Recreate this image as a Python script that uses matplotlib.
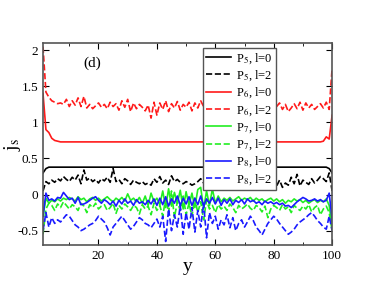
import matplotlib
matplotlib.use("Agg")
import matplotlib.pyplot as plt
from matplotlib.ticker import MultipleLocator, FuncFormatter

plt.rcParams['font.family'] = ['Liberation Serif', 'DejaVu Serif']
plt.rcParams['mathtext.fontset'] = 'stix'
plt.rcParams['axes.unicode_minus'] = False

y = list(range(1, 101))

p5_l0 = [0.30, 0.36] + [0.38] * 96 + [0.36, 0.30]
p6_l0 = [1.40, 0.90, 0.86, 0.78, 0.75, 0.74] + [0.73] * 90 + [0.74, 0.80, 0.77, 1.10]

p5_l2 = [
    0.05, 0.18, 0.15, 0.20, 0.17, 0.22, 0.19, 0.25, 0.21, 0.18,
    0.24, 0.20, 0.27, 0.15, 0.34, 0.20, 0.23, 0.18, 0.21, 0.16,
    0.22, 0.19, 0.24, 0.17, 0.36, 0.18, 0.21, 0.15, 0.22, 0.19,
    0.14, 0.20, 0.17, 0.15, 0.18, 0.14, 0.16, 0.13, 0.22, 0.17,
    0.25, 0.16, 0.20, 0.14, 0.26, 0.18, 0.21, 0.17, 0.15, 0.18,
    0.16, 0.13, 0.15, 0.18, 0.22, 0.16, 0.20, 0.15, 0.19, 0.17,
    0.20, 0.15, 0.22, 0.18, 0.16, 0.21, 0.14, 0.19, 0.17, 0.20,
    0.15, 0.22, 0.18, 0.12, 0.35, 0.16, 0.20, 0.14, 0.18, 0.15,
    0.12, 0.20, 0.10, 0.16, 0.13, 0.24, 0.15, 0.28, 0.12, 0.20,
    0.17, 0.14, 0.22, 0.16, 0.20, 0.25, 0.22, 0.18, 0.30, 0.05,
]

p6_l2 = [
    2.05, 1.42, 1.35, 1.30, 1.28, 1.26, 1.27, 1.25, 1.32, 1.22,
    1.30, 1.24, 1.34, 1.22, 1.36, 1.20, 1.25, 1.19, 1.23, 1.27,
    1.21, 1.25, 1.19, 1.28, 1.22, 1.26, 1.17, 1.30, 1.21, 1.32,
    1.15, 1.27, 1.19, 1.25, 1.21, 1.16, 1.24, 1.06, 1.28, 1.10,
    1.27, 1.18, 1.30, 1.15, 1.26, 1.20, 1.29, 1.17, 1.25, 1.21,
    1.28, 1.16, 1.27, 1.20, 1.30, 1.22, 1.25, 1.19, 1.27, 1.21,
    1.24, 1.19, 1.27, 1.21, 1.25, 1.18, 1.26, 1.22, 1.28, 1.20,
    1.25, 1.19, 1.27, 1.21, 1.24, 1.18, 1.26, 1.22, 1.28, 1.25,
    1.22, 1.27, 1.18, 1.25, 1.15, 1.20, 1.26, 1.19, 1.28, 1.17,
    1.27, 1.20, 1.25, 1.18, 1.22, 1.26, 1.20, 1.28, 1.18, 1.75,
]

p7_l0 = [
    -0.30, -0.05, -0.12, -0.08, -0.10, -0.06, -0.09, -0.05, -0.07, -0.04,
    -0.06, -0.09, -0.03, -0.07, -0.05, -0.10, -0.06, -0.04, -0.08, -0.05,
    -0.09, -0.06, -0.03, -0.07, -0.10, -0.05, -0.08, -0.04, -0.09, 0.01,
    -0.08, -0.05, -0.10, -0.04, -0.12, -0.02, -0.15, 0.02, -0.10, -0.05,
    -0.14, 0.05, -0.18, 0.08, -0.16, 0.03, -0.12, 0.06, -0.20, 0.04,
    -0.15, 0.02, -0.18, 0.07, 0.10, -0.20, 0.05, -0.15, 0.08, -0.12,
    -0.02, -0.10, -0.05, -0.08, -0.04, -0.09, -0.06, -0.03, -0.08, -0.05,
    -0.07, -0.04, -0.09, -0.05, -0.08, -0.06, -0.10, -0.07, -0.05, -0.09,
    -0.06, -0.10, -0.07, -0.12, -0.08, -0.10, -0.06, -0.09, -0.07, -0.11,
    -0.08, -0.12, -0.09, -0.07, -0.11, -0.08, -0.10, -0.06, -0.15, -0.45,
]

p7_l2 = [
    -0.55, -0.20, -0.12, -0.15, -0.22, -0.13, -0.18, -0.10, -0.15, -0.20,
    -0.14, -0.17, -0.22, -0.12, -0.16, -0.25, -0.14, -0.18, -0.12, -0.20,
    -0.16, -0.14, -0.22, -0.18, -0.12, -0.26, -0.15, -0.20, -0.13, -0.17,
    -0.22, -0.15, -0.18, -0.27, -0.14, -0.20, -0.16, -0.28, -0.12, -0.22,
    -0.15, -0.30, -0.05, -0.25, 0.05, -0.32, -0.10, -0.22, -0.02, -0.28,
    -0.12, -0.30, -0.05, -0.25, -0.10, -0.35, -0.08, -0.20, -0.15, -0.25,
    -0.14, -0.20, -0.16, -0.22, -0.13, -0.18, -0.25, -0.15, -0.20, -0.17,
    -0.13, -0.19, -0.22, -0.15, -0.18, -0.24, -0.16, -0.32, -0.20, -0.15,
    -0.18, -0.22, -0.14, -0.20, -0.17, -0.25, -0.15, -0.19, -0.22, -0.16,
    -0.20, -0.14, -0.24, -0.18, -0.15, -0.28, -0.20, -0.16, -0.25, -0.50,
]

p8_l0 = [
    -0.30, 0.02, -0.08, -0.06, -0.09, -0.04, -0.05, 0.03, -0.02, -0.07,
    -0.05, -0.12, -0.04, -0.14, -0.13, -0.11, -0.08, -0.05, -0.03, -0.08,
    -0.12, -0.07, -0.10, -0.14, -0.09, -0.16, -0.08, -0.13, -0.06, -0.12,
    -0.09, -0.15, -0.07, -0.12, -0.10, -0.14, -0.08, -0.13, -0.06, -0.15,
    -0.05, -0.14, -0.03, -0.16, -0.06, -0.12, -0.02, -0.15, -0.05, -0.13,
    -0.03, -0.15, -0.05, -0.14, -0.02, -0.16, -0.06, -0.12, -0.04, -0.13,
    -0.05, -0.15, -0.07, -0.12, -0.06, -0.14, -0.08, -0.11, -0.07, -0.13,
    -0.06, -0.10, -0.08, -0.12, -0.10, -0.14, -0.09, -0.12, -0.10, -0.13,
    -0.11, -0.14, -0.12, -0.16, -0.15, -0.18, -0.14, -0.10, -0.07, -0.04,
    -0.06, -0.09, -0.08, -0.06, -0.09, -0.07, -0.10, -0.08, 0.02, -0.35,
]

p8_l2 = [
    -0.50, -0.25, -0.45, -0.32, -0.40, -0.35, -0.38, -0.33, -0.28, -0.30,
    -0.36, -0.42, -0.45, -0.50, -0.48, -0.45, -0.42, -0.40, -0.36, -0.30,
    -0.34, -0.38, -0.46, -0.56, -0.45, -0.40, -0.35, -0.30, -0.36, -0.42,
    -0.48, -0.44, -0.38, -0.32, -0.35, -0.40, -0.42, -0.46, -0.40, -0.34,
    -0.45, -0.30, -0.65, -0.20, -0.50, -0.28, -0.45, -0.15, -0.55, -0.25,
    -0.48, -0.18, -0.52, -0.22, -0.45, -0.12, -0.60, -0.25, -0.40, -0.30,
    -0.48, -0.35, -0.42, -0.28, -0.46, -0.32, -0.50, -0.40, -0.35, -0.45,
    -0.38, -0.30, -0.36, -0.45, -0.50, -0.56, -0.48, -0.40, -0.35, -0.30,
    -0.34, -0.40, -0.45, -0.50, -0.55, -0.52, -0.48, -0.42, -0.38, -0.35,
    -0.32, -0.28, -0.25, -0.30, -0.36, -0.40, -0.45, -0.48, -0.30, -0.50,
]

series = [
    (p5_l0, 'black', '-', r'P$_5$, l=0'),
    (p5_l2, 'black', '--', r'P$_5$, l=2'),
    (p6_l0, '#ff1a1a', '-', r'P$_6$, l=0'),
    (p6_l2, '#ff1a1a', '--', r'P$_6$, l=2'),
    (p7_l0, '#22ee22', '-', r'P$_7$, l=0'),
    (p7_l2, '#22ee22', '--', r'P$_7$, l=2'),
    (p8_l0, '#1a1aff', '-', r'P$_8$, l=0'),
    (p8_l2, '#1a1aff', '--', r'P$_8$, l=2'),
]

fig = plt.figure(figsize=(3.74, 2.89), dpi=100)
ax = fig.add_axes([0.115, 0.152, 0.773, 0.699])

for vals, c, ls, lab in series:
    ax.plot(y, vals, color=c, ls=ls, lw=1.2, label=lab)

ax.set_xlim(1, 100)
ax.set_ylim(-0.7, 2.1)
ax.xaxis.set_major_locator(MultipleLocator(20))
ax.xaxis.set_minor_locator(MultipleLocator(10))
ax.yaxis.set_major_locator(MultipleLocator(0.5))
ax.yaxis.set_major_formatter(FuncFormatter(lambda v, p: '%g' % v))
ax.tick_params(which='both', direction='in', top=True, right=True, labelsize=9.5)
ax.tick_params(which='major', length=4)
ax.tick_params(which='minor', length=2.5)
for s in ax.spines.values():
    s.set_color('#555555')
    s.set_linewidth(1.2)

ax.set_xlabel('y', fontsize=14, labelpad=-3)
ax.set_ylabel(r'j$_\mathrm{s}$', fontsize=14)
ax.yaxis.set_label_coords(-0.07, 0.5)
ax.text(0.14, 0.90, '(d)', transform=ax.transAxes, fontsize=11, va='center')

leg = ax.legend(loc='upper left', bbox_to_anchor=(0.554, 0.975), borderaxespad=0,
                fontsize=9, handlelength=2.0, labelspacing=0.22, borderpad=0.25,
                handletextpad=0.4, fancybox=False, framealpha=1, edgecolor='#555555')
leg.get_frame().set_linewidth(1.0)

fig.savefig('out.png', dpi=100)
